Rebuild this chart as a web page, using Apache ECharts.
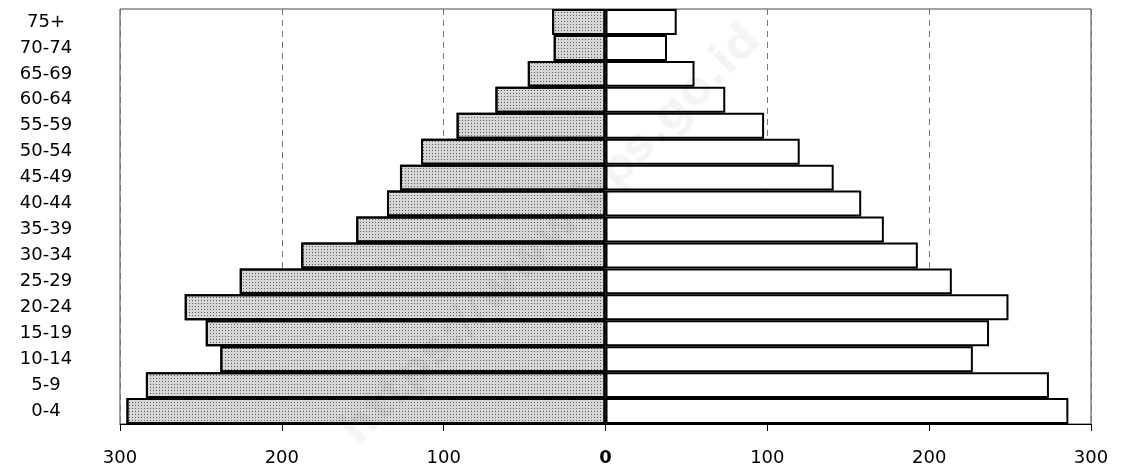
<!DOCTYPE html>
<html>
<head>
<meta charset="utf-8">
<script src="https://cdn.jsdelivr.net/npm/echarts@6/dist/echarts.min.js"></script>
<style>
  html, body { margin: 0; padding: 0; background: #fff; }
  #pyramid { width: 1123px; height: 470px; }
</style>
</head>
<body>
<div id="pyramid"></div>
<script>
// age groups, bottom to top
var ageGroups = ['0-4', '5-9', '10-14', '15-19', '20-24', '25-29', '30-34', '35-39',
  '40-44', '45-49', '50-54', '55-59', '60-64', '65-69', '70-74', '75+']
// left side (shaded) and right side (white)
var leftValues = [296, 284, 238, 247, 260, 226, 188, 154, 135, 127, 114, 92, 68, 48, 32, 33]
var rightValues = [286, 274, 227, 237, 249, 214, 193, 172, 158, 141, 120, 98, 74, 55, 38, 44]
var xTicks = [-300, -200, -100, 0, 100, 200, 300]

var labelFont = 'DejaVu Sans'

var myChart = echarts.init(document.getElementById('pyramid'))
myChart.setOption({
  animation: false,
  backgroundColor: '#fff',
  grid: {
    left: 120,
    right: 32,
    top: 9,
    bottom: 46,
    show: true,
    borderColor: '#444',
    borderWidth: 1
  },
  // faint watermark across the plot
  graphic: [{
    type: 'text',
    x: 552,
    y: 236,
    rotation: Math.PI / 4,
    z: 100,
    style: {
      text: 'https://www.bps.go.id',
      font: 'bold 46px ' + labelFont,
      fill: 'rgba(0,0,0,0.045)',
      align: 'center',
      verticalAlign: 'middle'
    }
  }],
  xAxis: {
    type: 'value',
    min: xTicks[0],
    max: xTicks[xTicks.length - 1],
    interval: 100,
    axisLine: { show: true, lineStyle: { color: '#000', width: 1 } },
    axisTick: { show: true, length: 7, lineStyle: { color: '#000' } },
    axisLabel: {
      margin: 25,
      fontFamily: labelFont,
      fontSize: 18,
      color: '#000',
      formatter: function (v) {
        return v === 0 ? '{zero|0}' : String(Math.abs(v))
      },
      rich: {
        zero: { fontFamily: labelFont, fontSize: 18, fontWeight: 'bold', color: '#000' }
      }
    },
    splitLine: {
      show: true,
      lineStyle: { color: '#777', type: [6, 5], width: 1 }
    }
  },
  yAxis: {
    type: 'category',
    data: ageGroups,
    axisLine: { show: false },
    axisTick: { show: false },
    axisLabel: {
      margin: 74,
      align: 'center',
      fontFamily: labelFont,
      fontSize: 18,
      color: '#000'
    }
  },
  series: [{
    name: 'left',
    type: 'bar',
    barCategoryGap: 0,
    barGap: '-100%',
    data: leftValues.map(function (v) { return -v }),
    itemStyle: {
      color: '#d6d6d6',
      borderColor: '#000',
      borderWidth: 2,
      decal: {
        symbol: 'rect',
        symbolSize: 1,
        dashArrayX: [1, 2],
        dashArrayY: [1, 2],
        color: 'rgba(0,0,0,0.55)'
      }
    }
  }, {
    name: 'right',
    type: 'bar',
    barCategoryGap: 0,
    barGap: '-100%',
    data: rightValues,
    itemStyle: {
      color: '#fff',
      borderColor: '#000',
      borderWidth: 2
    }
  }]
})
</script>
</body>
</html>
